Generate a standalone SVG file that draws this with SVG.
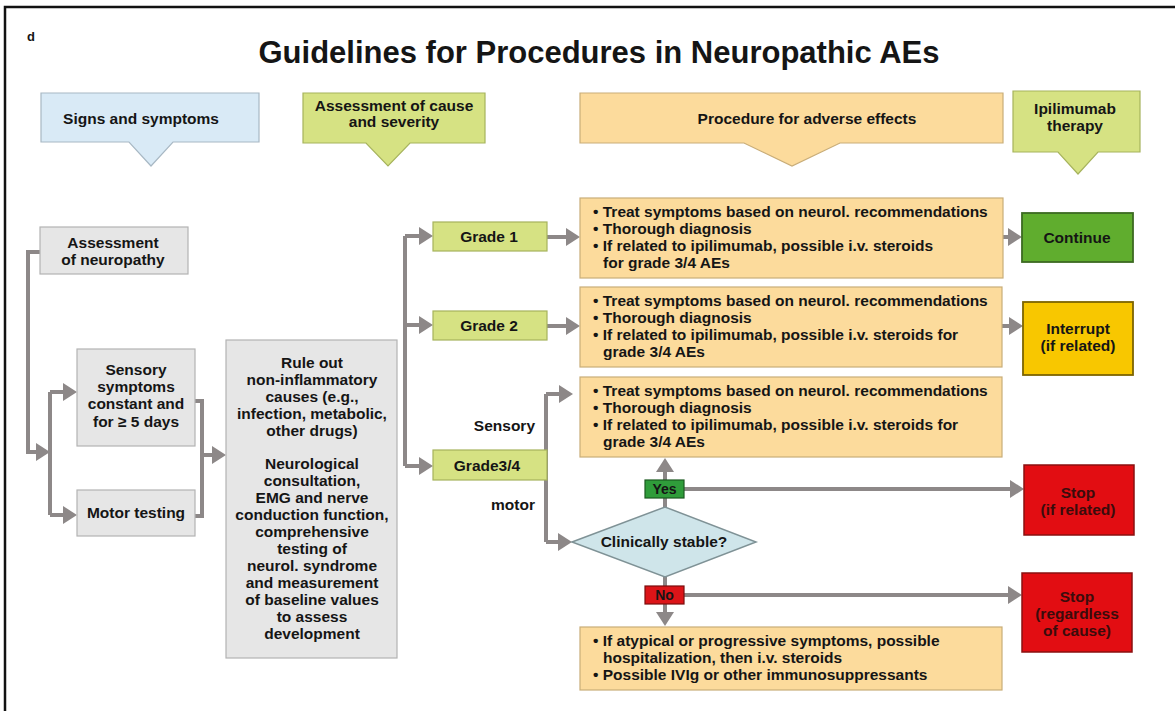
<svg xmlns="http://www.w3.org/2000/svg" width="1175" height="711" viewBox="0 0 1175 711">
<defs>
<style>
text{font-family:"Liberation Sans",Arial,sans-serif;font-weight:bold;fill:#151515;font-size:15.5px}
.c{text-anchor:middle}
.r{text-anchor:end}
.blue{fill:#d9eaf6;stroke:#a8b8c4;stroke-width:1.2}
.lime{fill:#d6e283;stroke:#a6b35c;stroke-width:1.2}
.peach{fill:#fcdb9c;stroke:#c9ad78;stroke-width:1.2}
.gray{fill:#e6e6e6;stroke:#b3b3b3;stroke-width:1.2}
.ln{fill:none;stroke:#8d8888;stroke-width:4}
.arr{fill:none;stroke:#8d8888;stroke-width:4;marker-end:url(#ah)}
.red{fill:#e20d12;stroke:#8a1010;stroke-width:1.5}
.rt{fill:#3a0c0c}
</style>
<marker id="ah" viewBox="0 0 14 18" markerWidth="14" markerHeight="18" refX="1" refY="9" orient="auto" markerUnits="userSpaceOnUse">
<path d="M0,0 L14,9 L0,18 Z" fill="#8d8888"/>
</marker>
</defs>
<rect width="1175" height="711" fill="#ffffff"/>
<path d="M5,711 V7 H1175" fill="none" stroke="#111" stroke-width="2.5"/>
<text x="27" y="41" style="font-size:13px">d</text>
<text x="599" y="63" class="c" style="font-size:31px">Guidelines for Procedures in Neuropathic AEs</text>

<g id="connectors">
<path class="arr" d="M40,252 H28 V452 H37"/>
<path class="ln" d="M50,392 V515"/>
<path class="arr" d="M50,392 H64"/>
<path class="arr" d="M50,515 H64"/>
<path class="ln" d="M195,401 H202 V516 H195"/>
<path class="arr" d="M202,455 H213"/>
<path class="ln" d="M405,236 V466"/>
<path class="arr" d="M405,236 H420"/>
<path class="arr" d="M405,325 H420"/>
<path class="arr" d="M405,466 H420"/>
<path class="arr" d="M547,237 H567"/>
<path class="arr" d="M547,326 H567"/>
<path class="ln" d="M546,394 V542"/>
<path class="arr" d="M546,394 H560"/>
<path class="arr" d="M546,542 H559"/>
<path class="arr" d="M1003,237 H1009"/>
<path class="arr" d="M1002,326 H1010"/>
<path class="arr" d="M665,507 V471"/>
<path class="arr" d="M684,489 H1011"/>
<path class="arr" d="M665,577 V613"/>
<path class="arr" d="M684,595 H1009"/>
</g>

<g id="hdr-signs">
<path class="blue" d="M41,93 H259 V142 H173 L151,166 L129,142 H41 Z"/>
<text x="141" y="124" class="c">Signs and symptoms</text>
</g>
<g id="hdr-assessment">
<path class="lime" d="M303,93 H485 V143 H410 L388,166 L366,143 H303 Z"/>
<text x="394" y="111" class="c">Assessment of cause</text>
<text x="394" y="127" class="c">and severity</text>
</g>
<g id="hdr-procedure">
<path class="peach" d="M580,93 H1003 V143 H840 L792,166 L744,143 H580 Z"/>
<text x="807" y="124" class="c">Procedure for adverse effects</text>
</g>
<g id="hdr-ipilimumab">
<path class="lime" d="M1013,91 H1140 V152 H1098 L1078,174 L1058,152 H1013 Z"/>
<text x="1075" y="114" class="c">Ipilimumab</text>
<text x="1075" y="131" class="c">therapy</text>
</g>

<g id="assess-neuropathy">
<rect class="gray" x="40" y="227" width="148" height="47"/>
<text x="113" y="248" class="c">Assessment</text>
<text x="113" y="265" class="c">of neuropathy</text>
</g>
<g id="sensory">
<rect class="gray" x="77" y="349" width="118" height="97"/>
<text x="136" y="375" class="c">Sensory</text>
<text x="136" y="392" class="c">symptoms</text>
<text x="136" y="409" class="c">constant and</text>
<text x="136" y="427" class="c">for ≥ 5 days</text>
</g>
<g id="motor">
<rect class="gray" x="77" y="490" width="118" height="46"/>
<text x="136" y="518" class="c">Motor testing</text>
</g>
<g id="ruleout">
<rect class="gray" x="226" y="340" width="171" height="318"/>
<text x="312" y="368" class="c">Rule out</text>
<text x="312" y="385" class="c">non-inflammatory</text>
<text x="312" y="402" class="c">causes (e.g.,</text>
<text x="312" y="419" class="c">infection, metabolic,</text>
<text x="312" y="436" class="c">other drugs)</text>
<text x="312" y="469" class="c">Neurological</text>
<text x="312" y="486" class="c">consultation,</text>
<text x="312" y="503" class="c">EMG and nerve</text>
<text x="312" y="520" class="c">conduction function,</text>
<text x="312" y="537" class="c">comprehensive</text>
<text x="312" y="554" class="c">testing of</text>
<text x="312" y="571" class="c">neurol. syndrome</text>
<text x="312" y="588" class="c">and measurement</text>
<text x="312" y="605" class="c">of baseline values</text>
<text x="312" y="622" class="c">to assess</text>
<text x="312" y="639" class="c">development</text>
</g>

<g id="grade1">
<rect class="lime" x="433" y="222" width="114" height="29"/>
<text x="489" y="242" class="c">Grade 1</text>
</g>
<g id="grade2">
<rect class="lime" x="433" y="311" width="114" height="29"/>
<text x="489" y="331" class="c">Grade 2</text>
</g>
<g id="grade34">
<rect class="lime" x="433" y="450" width="114" height="30"/>
<text x="487" y="471" class="c">Grade3/4</text>
</g>
<text x="535" y="431" class="r">Sensory</text>
<text x="535" y="510" class="r">motor</text>

<g id="proc1">
<rect class="peach" x="580" y="198" width="423" height="80"/>
<text x="593" y="217">• Treat symptoms based on neurol. recommendations</text>
<text x="593" y="234">• Thorough diagnosis</text>
<text x="593" y="251">• If related to ipilimumab, possible i.v. steroids</text>
<text x="603" y="268">for grade 3/4 AEs</text>
</g>
<g id="proc2">
<rect class="peach" x="580" y="287" width="422" height="80"/>
<text x="593" y="306">• Treat symptoms based on neurol. recommendations</text>
<text x="593" y="323">• Thorough diagnosis</text>
<text x="593" y="340">• If related to ipilimumab, possible i.v. steroids for</text>
<text x="603" y="357">grade 3/4 AEs</text>
</g>
<g id="proc3">
<rect class="peach" x="580" y="377" width="422" height="80"/>
<text x="593" y="396">• Treat symptoms based on neurol. recommendations</text>
<text x="593" y="413">• Thorough diagnosis</text>
<text x="593" y="430">• If related to ipilimumab, possible i.v. steroids for</text>
<text x="603" y="447">grade 3/4 AEs</text>
</g>
<g id="proc4">
<rect class="peach" x="580" y="627" width="422" height="63"/>
<text x="593" y="646">• If atypical or progressive symptoms, possible</text>
<text x="603" y="663">hospitalization, then i.v. steroids</text>
<text x="593" y="680">• Possible IVIg or other immunosuppressants</text>
</g>

<g id="decision">
<path d="M572,542 L665,507 L756,542 L665,577 Z" fill="#cfe5ea" stroke="#7f9296" stroke-width="1.5"/>
<text x="664" y="547" class="c">Clinically stable?</text>
</g>
<g id="yes">
<rect x="645" y="480" width="39" height="18" fill="#2f9c3a" stroke="#1c5a20" stroke-width="1.2"/>
<text x="664.5" y="494" class="c" style="font-size:14px">Yes</text>
</g>
<g id="no">
<rect x="645" y="586" width="39" height="18" fill="#dc1418" stroke="#7a0c0c" stroke-width="1.2"/>
<text x="664.5" y="600" class="c" style="font-size:14px">No</text>
</g>

<g id="continue">
<rect x="1022" y="213" width="111" height="49" fill="#60ad2e" stroke="#3c6a22" stroke-width="1.8"/>
<text x="1077" y="243" class="c">Continue</text>
</g>
<g id="interrupt">
<rect x="1023" y="302" width="110" height="73" fill="#f8c700" stroke="#7d6400" stroke-width="1.8"/>
<text x="1078" y="334" class="c">Interrupt</text>
<text x="1078" y="351" class="c">(if related)</text>
</g>
<g id="stop1">
<rect class="red" x="1024" y="465" width="110" height="70"/>
<text x="1078" y="498" class="c rt">Stop</text>
<text x="1078" y="515" class="c rt">(if related)</text>
</g>
<g id="stop2">
<rect class="red" x="1022" y="573" width="110" height="79"/>
<text x="1077" y="602" class="c rt">Stop</text>
<text x="1077" y="619" class="c rt">(regardless</text>
<text x="1077" y="636" class="c rt">of cause)</text>
</g>
</svg>
